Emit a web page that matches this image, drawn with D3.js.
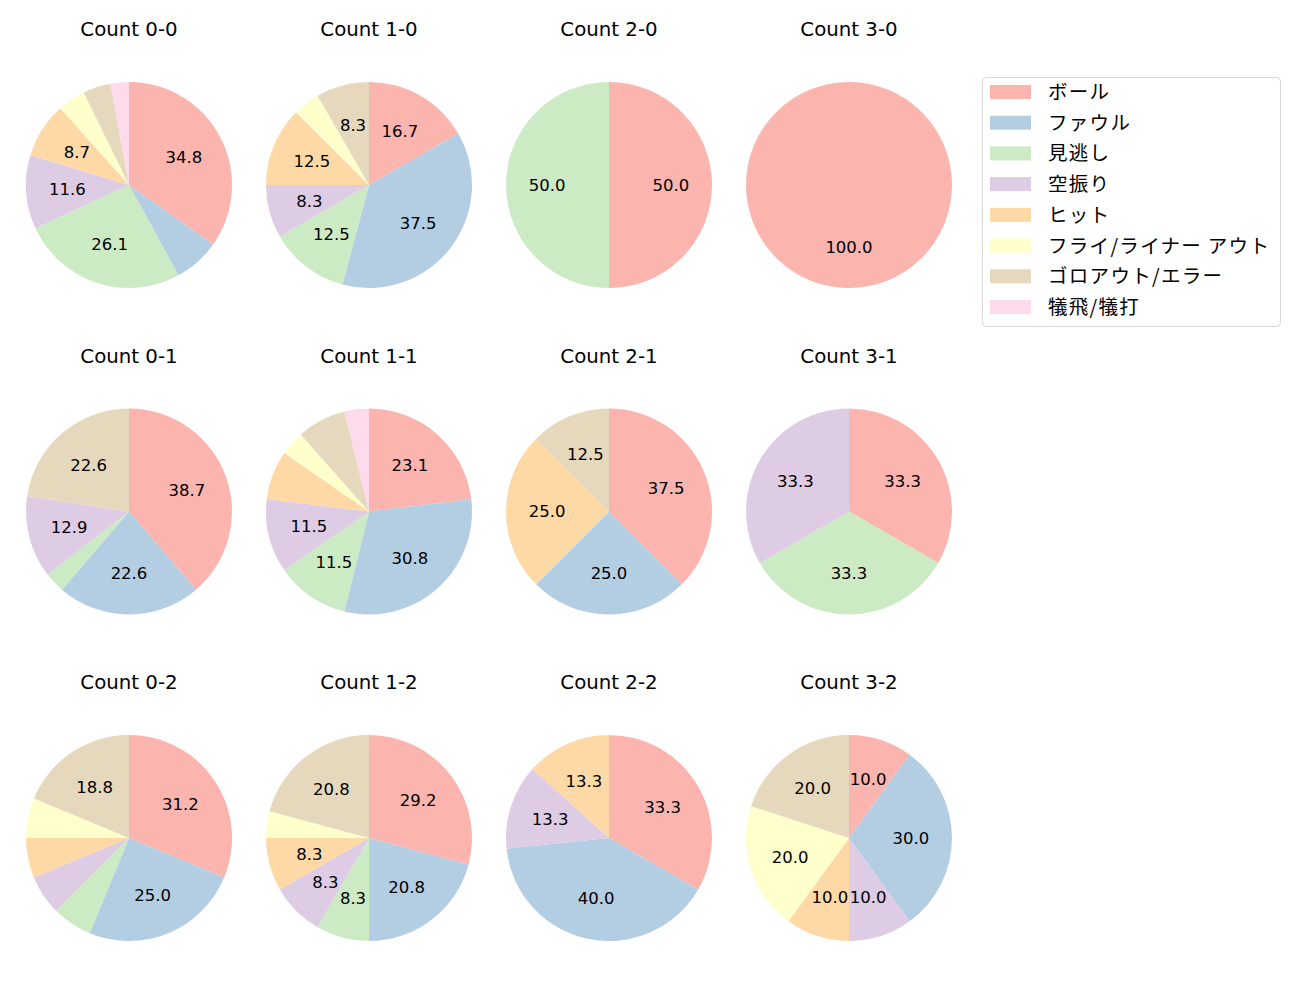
<!DOCTYPE html>
<html><head><meta charset="utf-8">
<script src="https://cdn.jsdelivr.net/npm/d3@7"></script>
<style>body{margin:0;background:#fff}svg{display:block}text{fill:#000}
.lat{font-family:"DejaVu Sans",sans-serif}
.jp{font-family:"Noto Sans CJK JP","Noto Sans",sans-serif}</style>
</head><body>
<svg id="c" width="1300" height="1000"></svg>
<script>
const categories = ["ボール","ファウル","見逃し","空振り","ヒット","フライ/ライナー アウト","ゴロアウト/エラー","犠飛/犠打"];
const colors = ["#fbb4ae","#b3cde3","#ccebc5","#decbe4","#fed9a6","#ffffcc","#e5d8bd","#fddaec"];
const titles = ["Count 0-0","Count 1-0","Count 2-0","Count 3-0","Count 0-1","Count 1-1","Count 2-1","Count 3-1","Count 0-2","Count 1-2","Count 2-2","Count 3-2"];
const count00 = [24,5,18,8,6,3,3,2];
const count10 = [4,9,3,2,3,1,2,0];
const count20 = [1,0,1,0,0,0,0,0];
const count30 = [1,0,0,0,0,0,0,0];
const count01 = [12,7,1,4,0,0,7,0];
const count11 = [6,8,3,3,2,1,2,1];
const count21 = [3,2,0,0,2,0,1,0];
const count31 = [1,0,1,1,0,0,0,0];
const count02 = [5,4,1,1,1,1,3,0];
const count12 = [7,5,2,2,2,1,5,0];
const count22 = [5,6,0,2,2,0,0,0];
const count32 = [1,3,0,1,1,2,2,0];
const allCounts = [count00,count10,count20,count30,count01,count11,count21,count31,count02,count12,count22,count32];

function fmt(p){
  const v = p*10, f = Math.floor(v), d = v - f;
  let n;
  if (Math.abs(d-0.5) < 1e-9) n = (f % 2 === 0) ? f : f+1;
  else n = Math.round(v);
  return (n/10).toFixed(1);
}

const svg = d3.select("#c");
const R = 103;
const colX = d3.scaleLinear().domain([0,3]).range([129, 849]);
const rowY = d3.scaleLinear().domain([0,2]).range([185, 838]);
const color = d3.scaleOrdinal().domain(categories).range(colors);
const pie = d3.pie().sort(null).value(d=>d.v).startAngle(0).endAngle(2*Math.PI);
const arc = d3.arc().innerRadius(0).outerRadius(R);
const lab = d3.arc().innerRadius(R*0.6).outerRadius(R*0.6);

allCounts.forEach((vals,i)=>{
  const col = i%4, row = Math.floor(i/4);
  const g = svg.append("g").attr("transform",`translate(${colX(col)},${rowY(row)})`);
  const total = d3.sum(vals);
  const data = pie(vals.map((v,k)=>({v, k})).filter(d=>d.v>0));
  g.selectAll("path").data(data).join("path")
    .attr("d",arc).attr("fill",d=>color(categories[d.data.k]));
  g.selectAll("text.l").data(data.filter(d=>d.data.v/total*100 >= 8)).join("text")
    .attr("class","l lat")
    .attr("transform",d=>`translate(${lab.centroid(d)})`)
    .attr("text-anchor","middle").attr("dy","0.36em")
    .style("font-size","16.5px")
    .text(d=>fmt(d.data.v/total*100));
  g.append("text").attr("class","lat").attr("x",0).attr("y",-156).attr("text-anchor","middle")
    .attr("dy","0.36em").style("font-size","19.8px").text(titles[i]);
});

const lg = svg.append("g");
lg.append("rect").attr("x",982.5).attr("y",77.5).attr("width",298).attr("height",249)
  .attr("rx",4).attr("fill","#fff").attr("stroke","#d6d6d6");
const ly = d3.scaleLinear().domain([0,7]).range([92,307]);
categories.forEach((c,k)=>{
  lg.append("rect").attr("x",990).attr("y",ly(k)-7).attr("width",41).attr("height",14).attr("fill",color(c));
  lg.append("text").attr("class","jp").attr("x",1048).attr("y",ly(k)).attr("dy","0.36em")
    .style("font-size","19.5px").style("letter-spacing","1.3px").text(c);
});
</script>
</body></html>
